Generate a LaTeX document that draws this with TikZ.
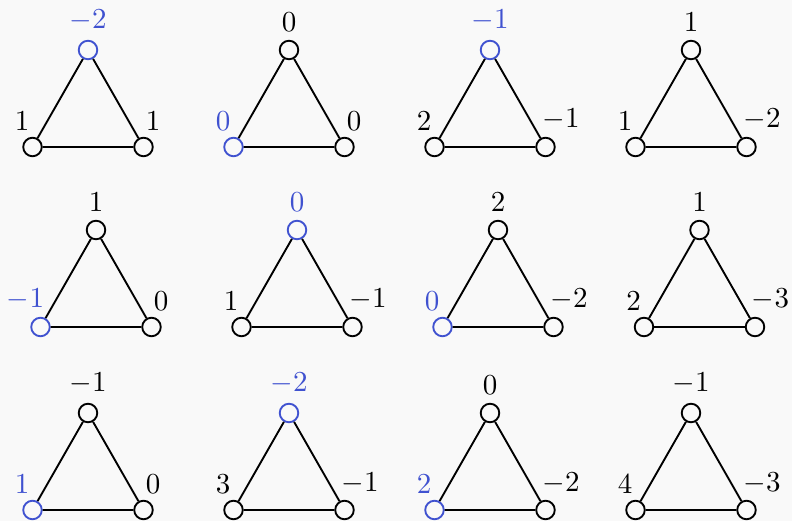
\documentclass[tikz,border=0pt]{standalone}
\usetikzlibrary{calc}
\definecolor{hlblue}{RGB}{64,82,208}
\definecolor{bgc}{RGB}{249,249,249}
\tikzset{
  vtx/.style={circle, draw, line width=0.65pt, minimum size=6.4pt, inner sep=0pt},
  edge/.style={line width=0.65pt},
  lbl/.style={inner sep=0pt, anchor=south},
  pick/.code 2 args={\ifx#1#2\pgfkeysalso{color=hlblue}\fi}
}
\newcommand\tri[9]{%
  \node[vtx, pick={#9}{t}] (#1t) at (#2,#3) {};
  \node[vtx, pick={#9}{l}] (#1l) at (#2-55.5,#3+97) {};
  \node[vtx, pick={#9}{r}] (#1r) at (#2+55.5,#3+97) {};
  \draw[edge] (#1t) -- (#1l) (#1l) -- (#1r) (#1r) -- (#1t);
  \node[lbl, pick={#9}{t}] (#1tx) at ($(#1t)+(0,-18.3)$) {$#4$};
  \node[lbl, pick={#9}{l}] (#1lx) at ($(#1l)+(#7,-16)$) {$#5$};
  \node[lbl, pick={#9}{r}] (#1rx) at ($(#1r)+(#8,-16)$) {$#6$};
}
\begin{document}
\begin{tikzpicture}[x=0.345pt, y=-0.345pt]
  \fill[bgc] (0,0) rectangle (792,521);
  \useasboundingbox (0,0) rectangle (792,521);
  \tri{a}{88}{50}{-2}{1}{1}{-10.5}{9.5}{t}
  \tri{b}{289}{50}{0}{0}{0}{-10.5}{9.5}{l}
  \tri{c}{490}{50}{-1}{2}{-1}{-10.5}{15.5}{t}
  \tri{d}{691}{50}{1}{1}{-2}{-10.5}{15.5}{n}
  \tri{e}{96}{230}{1}{-1}{0}{-15}{9.5}{l}
  \tri{f}{297}{230}{0}{1}{-1}{-10.5}{15.5}{t}
  \tri{g}{498}{230}{2}{0}{-2}{-10.5}{15.5}{l}
  \tri{h}{699.5}{230}{1}{2}{-3}{-10.5}{15.5}{n}
  \tri{i}{88}{413}{-1}{1}{0}{-10.5}{9.5}{l}
  \tri{j}{289}{413}{-2}{3}{-1}{-10.5}{15.5}{t}
  \tri{k}{490}{413}{0}{2}{-2}{-10.5}{15.5}{l}
  \tri{m}{691}{413}{-1}{4}{-3}{-10.5}{15.5}{n}
\end{tikzpicture}
\end{document}
